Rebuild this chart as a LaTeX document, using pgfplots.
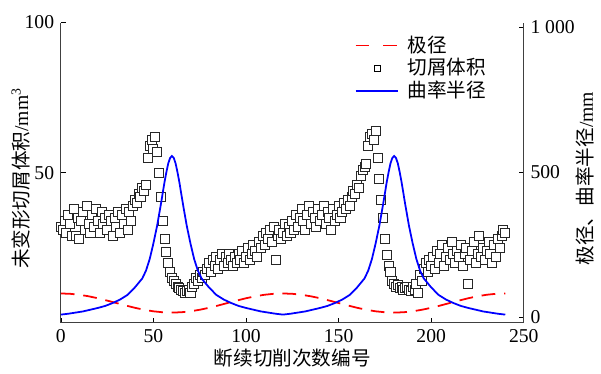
\documentclass[border=0pt]{standalone}
\usepackage{fontspec}
\setmainfont{Liberation Serif}
\newfontfamily\cjk{Noto Sans CJK SC}
\usepackage{pgfplots}
\usepackage{pgfplotstable}
\pgfplotsset{compat=1.18}

\pgfplotstableread{
x v
0 32
1 31
2 34
3 30
4 36
5 33
6 29
7 38
8 29
9 35
10 28
11 34
12 37
13 31
14 39
15 33
16 30
17 36
18 32
19 38
20 34
21 30
22 37
23 33
24 35
25 31
26 36
27 34
28 29
29 35
30 32
31 37
32 30
33 36
34 33
35 38
36 31
37 37
38 34
39 39
40 41
41 40
42 43
43 42
44 45
45 44
46 46
47 55
48 59
49 61
50 58
51 62
52 57
53 50
54 42
55 34
56 28
57 23.5
58 20
59 17
60 15
61 14
62 13
63 12
64 11.5
65 11
66 10.5
67 10
68 10.5
69 11
70 10
71 12
72 13
73 15
74 14
75 16
76 15
77 17
78 16
79 18
80 20
81 17
82 21
83 19
84 22
85 18
86 21
87 23
88 19
89 22
90 20
91 23
92 21
93 19
94 22
95 20
96 23
97 21
98 24
99 20
100 22
101 25
102 21
103 23
104 26
105 24
106 22
107 27
108 25
109 29
110 26
111 30
112 28
113 31
114 27
115 32
116 21
117 29
118 31
119 28
120 30
121 33
122 29
123 32
124 30
125 34
126 31
127 36
128 32
129 35
130 38
131 34
132 31
133 36
134 39
135 33
136 37
137 35
138 32
139 38
140 34
141 36
142 39
143 33
144 37
145 35
146 31
147 38
148 34
149 36
150 39
151 35
152 37
153 40
154 38
155 41
156 39
157 42
158 44
159 43
160 46
161 45
162 49
163 51
164 52
165 53
166 59
167 62
168 63
169 61
170 64
171 55
172 48
173 41
174 35
175 28
176 22.5
177 19
178 17
179 14
180 13
181 12
182 12.5
183 11.5
184 12
185 11
186 11.5
187 12
188 11
189 10.5
190 12
191 11
192 13
193 10
194 16
195 14
196 18
197 20
198 17
199 21
200 19
201 22
202 18
203 24
204 20
205 23
206 26
207 19
208 22
209 25
210 21
211 27
212 23
213 20
214 24
215 22
216 26
217 19
218 23
219 25
220 13
221 21
222 24
223 27
224 20
225 23
226 29
227 22
228 25
229 21
230 24
231 27
232 23
233 20
234 26
235 22
236 28
237 25
238 29
239 31
240 30
}\chipdata

\pgfplotstableread{
x v
0 81
5 79.9
10 76.6
15 71.3
20 64.5
25 56.5
30 48
35 39.5
40 31.5
45 24.7
50 19.4
55 16.1
60 15
65 16.1
70 19.4
75 24.7
80 31.5
85 39.5
90 48
95 56.5
100 64.5
105 71.3
110 76.6
115 79.9
120 81
125 79.9
130 76.6
135 71.3
140 64.5
145 56.5
150 48
155 39.5
160 31.5
165 24.7
170 19.4
175 16.1
180 15
185 16.1
190 19.4
195 24.7
200 31.5
205 39.5
210 48
215 56.5
220 64.5
225 71.3
230 76.6
235 79.9
240 81
}\polardata

\pgfplotstableread{
x v
0 8
4 11
8 15
12 19
16 25
20 31
24 38
28 48
32 60
36 76
40 102
44 133
46 160
48 200
50 254
52 315
54 388
55 427
56 466
57 500
58 530
59 549
60 556
61 549
62 530
63 500
64 466
65 427
66 388
68 315
70 254
72 200
74 160
76 133
80 102
84 76
88 60
92 48
96 38
100 31
104 25
108 19
112 15
116 11
120 8
124 11
128 15
132 19
136 25
140 31
144 38
148 48
152 60
156 76
160 102
164 133
166 160
168 200
170 254
172 315
174 388
175 427
176 466
177 500
178 530
179 549
180 556
181 549
182 530
183 500
184 466
185 427
186 388
188 315
190 254
192 200
194 160
196 133
200 102
204 76
208 60
212 48
216 38
220 31
224 25
228 19
232 15
236 11
240 8
}\curvdata

\begin{document}
\fontsize{20}{24}\selectfont
\begin{tikzpicture}
\pgfplotsset{
  every axis/.append style={
    scale only axis, width=472pt, height=306pt,
    xmin=0, xmax=250,
    tick align=inside, major tick length=5pt,
    tick style={black, line width=0.6pt},
    axis line style={black!75, line width=0.9pt},
    /pgf/number format/assume math mode=true,
    /pgf/number format/1000 sep={},
  },
}
\begin{axis}[
  ymin=0, ymax=100,
  axis y line*=left, axis x line*=bottom,
  xtick={0,50,100,150,200,250},
  ytick={50,100},
  xlabel={\cjk 断续切削次数编号},
  xlabel style={at={(axis description cs:0.5,-0.118)}, anchor=center},
  ylabel={{\cjk 未变形切屑体积}/mm\textsuperscript{3}},
  ylabel style={at={(axis description cs:-0.087,0.48)}, anchor=center},
]
\addplot[only marks, mark=square*, mark size=4.6pt,
  mark options={draw=black!85, fill=white, line width=0.9pt}] table {\chipdata};
\end{axis}
\begin{axis}[
  ymin=-20, ymax=1017,
  axis y line*=right, axis x line=none,
  ytick={0,500,1000}, yticklabels={0,500,{1\ 000}},
  ylabel={{\cjk 极径、曲率半径}/mm},
  ylabel style={at={(axis description cs:1.133,0.48)}, anchor=center},
  legend style={draw=none, fill=none, at={(axis description cs:0.628,0.97)},
    anchor=north west, row sep=-0.5pt, font=\fontsize{20}{24}\selectfont},
  legend cell align=left,
]
\addplot[red, line width=1.8pt, dash pattern=on 14pt off 9pt,
  legend image code/.code={\draw[red, line width=1.8pt, dash pattern=on 14pt off 14pt] (0pt,0pt) -- (43pt,0pt); \path[draw=none] (0pt,0pt) -- (51pt,0pt);}] table {\polardata};
\addlegendentry{\cjk 极径}
\addlegendimage{legend image code/.code={\draw[black, line width=0.7pt, fill=white] (19pt,-3pt) rectangle (25pt,3pt); \path[draw=none] (0pt,0pt) -- (51pt,0pt);}}
\addlegendentry{\cjk 切屑体积}
\addplot[blue, line width=1.8pt,
  legend image code/.code={\draw[blue, line width=1.8pt] (0pt,0pt) -- (43pt,0pt); \path[draw=none] (0pt,0pt) -- (51pt,0pt);}] table {\curvdata};
\addlegendentry{\cjk 曲率半径}
\end{axis}
\path[use as bounding box] (-62pt,-45pt) rectangle (539pt,329pt);
\end{tikzpicture}
\end{document}
